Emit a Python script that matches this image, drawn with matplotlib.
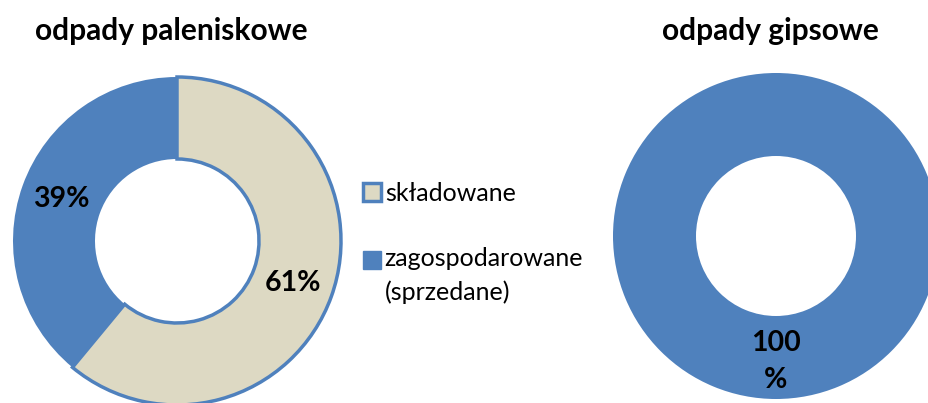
import matplotlib
matplotlib.use('Agg')
import matplotlib.pyplot as plt
from matplotlib.patches import Patch, Rectangle
from matplotlib.legend_handler import HandlerPatch

# data
categories = ['składowane', 'zagospodarowane\n(sprzedane)']
paleniskowe = [61, 39]
gipsowe = [100]
titles = ['odpady paleniskowe', 'odpady gipsowe']

BLUE = '#4F81BD'
TAN = '#DDD9C3'

plt.rcParams['font.family'] = ['Lato', 'DejaVu Sans']

W, H = 929, 403
fig = plt.figure(figsize=(W / 100, H / 100), dpi=100)
ax = fig.add_axes([0, 0, 1, 1])

# left donut
wedges, texts, autotexts = ax.pie(
    paleniskowe, colors=[TAN, BLUE], startangle=90, counterclock=False,
    center=(177, H - 241), radius=164, autopct='%.0f%%', pctdistance=0.75,
    wedgeprops=dict(width=164 - 82, edgecolor=BLUE, linewidth=2.5),
    textprops=dict(fontsize=20.5, fontweight='bold', color='black'))
wedges[1].set_linewidth(0)

# right donut
w2, t2, a2 = ax.pie(
    gipsowe, colors=[BLUE], startangle=90, counterclock=False,
    center=(776, H - 236), radius=163, autopct=lambda p: '%.0f\n%%' % p,
    pctdistance=0.77,
    wedgeprops=dict(width=163 - 80, linewidth=0),
    textprops=dict(fontsize=20.5, fontweight='bold', color='black',
                   linespacing=1.5))
ax.set_xlim(0, W)
ax.set_ylim(0, H)
ax.axis('off')

ax.text(171, H - 31, titles[0], ha='center', va='center', fontsize=21.5,
        fontweight='bold')
ax.text(770, H - 31, titles[1], ha='center', va='center', fontsize=21.5,
        fontweight='bold')


# square of a two-line entry sits next to the first line
def first_line_patch(legend, orig_handle, xdescent, ydescent, width, height,
                     fontsize):
    return Rectangle((-xdescent, -ydescent + 11.5), width, height)


handles = [Patch(facecolor=TAN, edgecolor=BLUE, linewidth=2.5),
           Patch(facecolor=BLUE, edgecolor=BLUE)]
leg = fig.legend(handles, categories, loc='upper left',
                 bbox_to_anchor=(363 / W, 1 - 182 / H), frameon=False,
                 fontsize=18, handlelength=0.72, handleheight=0.72,
                 handletextpad=0.15, labelspacing=1.7,
                 borderpad=0, borderaxespad=0,
                 handler_map={handles[1]: HandlerPatch(patch_func=first_line_patch)})
for t in leg.get_texts():
    t.set_linespacing(1.49)

fig.savefig('out.png', dpi=100)
